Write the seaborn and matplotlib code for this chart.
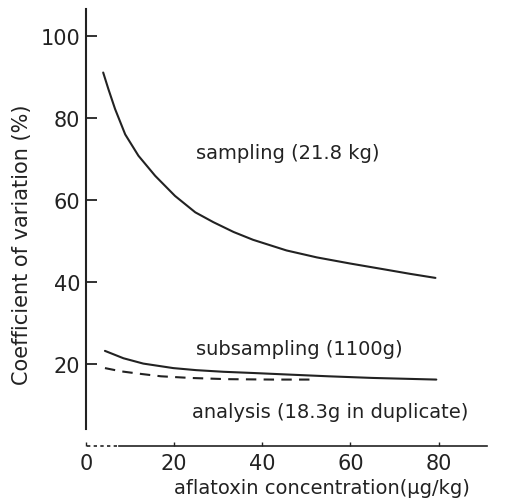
import numpy as np
import pandas as pd
import matplotlib
matplotlib.use("Agg")
import matplotlib.pyplot as plt
import seaborn as sns

# Werte
sampling_x = [3.9, 5.1, 6.6, 8.9, 11.9, 15.7, 20.2, 24.8, 28.9, 33.5, 37.9, 45.5,
              52.4, 60, 67.6, 73.5, 79.3]
sampling_y = [91.1, 87.0, 82.2, 76.0, 70.8, 65.9, 61.0, 57.0, 54.6, 52.2, 50.3, 47.7,
              46.0, 44.5, 43.1, 42.0, 41.0]

subsampling_x = [4.3, 8.5, 13, 19.8, 25, 31.2, 38, 46.4, 55, 65, 79.5]
subsampling_y = [23.2, 21.4, 20.1, 19.0, 18.5, 18.1, 17.8, 17.4, 17.0, 16.6, 16.2]

analysis_x = [4.3, 8, 12.3, 17, 23.6, 32, 42.5, 52]
analysis_y = [19.0, 18.2, 17.6, 17.0, 16.6, 16.3, 16.2, 16.2]

x_ticks = [0, 20, 40, 60, 80]
y_ticks = [20, 40, 60, 80, 100]

df = pd.concat([
    pd.DataFrame({"x": sampling_x, "y": sampling_y, "serie": "sampling"}),
    pd.DataFrame({"x": subsampling_x, "y": subsampling_y, "serie": "subsampling"}),
    pd.DataFrame({"x": analysis_x, "y": analysis_y, "serie": "analysis"}),
])

sns.set_style("white")
plt.rcParams["font.family"] = ["DejaVu Sans"]
ink = "#222222"

fig = plt.figure(figsize=(5.25, 5.02), dpi=100)
ax = fig.add_axes([0.1638, 0.1096, 0.7638, 0.8705])

sns.lineplot(data=df, x="x", y="y", hue="serie", style="serie",
             palette={"sampling": ink, "subsampling": ink, "analysis": ink},
             dashes={"sampling": "", "subsampling": "", "analysis": (5, 3.5)},
             linewidth=1.5, legend=False, ax=ax, sort=True)
for ln in ax.lines:
    ln.set_solid_joinstyle("round")
    ln.set_dash_joinstyle("round")

ax.set_xlim(0, 91)
ax.set_ylim(0, 106.6)
ax.set_xticks(x_ticks)
ax.set_yticks(y_ticks)
ax.tick_params(axis="y", left=True, direction="in", length=8, width=1.3,
               labelsize=15, colors=ink, pad=4)
ax.tick_params(axis="x", bottom=True, direction="in", length=3, width=1,
               labelsize=15, colors=ink, pad=5)

for s in ["top", "right"]:
    ax.spines[s].set_visible(False)
ax.spines["left"].set_bounds(4.1, 106.6)
ax.spines["left"].set_linewidth(1.5)
ax.spines["bottom"].set_bounds(7.5, 91)
ax.spines["bottom"].set_linewidth(1.2)
ax.spines["left"].set_color(ink)
ax.spines["bottom"].set_color(ink)
# gestrichelter Anfang der x-Achse
ax.hlines(0, 0.3, 7, colors=ink, linestyles=(0, (2, 2)), linewidth=1.2, clip_on=False)

ax.set_xlabel("aflatoxin concentration(\u03bcg/kg)", fontsize=14, color=ink)
ax.xaxis.set_label_coords(0.588, -0.074)
ax.set_ylabel("Coefficient of variation (%)", fontsize=15, color=ink)
ax.yaxis.set_label_coords(-0.135, 0.462)

ax.text(25, 71.7, "sampling (21.8 kg)", fontsize=14, color=ink, va="center")
ax.text(25, 23.9, "subsampling (1100g)", fontsize=14, color=ink, va="center")
ax.text(24.1, 8.5, "analysis (18.3g in duplicate)", fontsize=14, color=ink, va="center")

plt.savefig("out.png", dpi=100)
